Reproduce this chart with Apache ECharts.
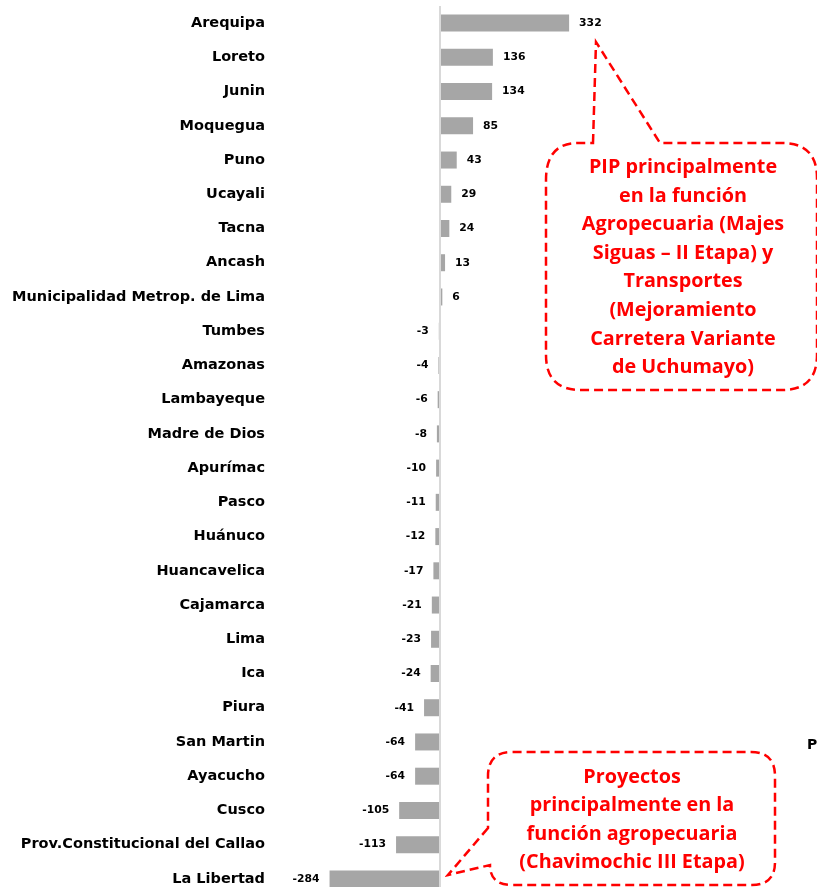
<!DOCTYPE html>
<html>
<head>
<meta charset="utf-8">
<script src="https://cdn.jsdelivr.net/npm/echarts@6/dist/echarts.min.js"></script>
<style>
html,body{margin:0;padding:0;background:#fff;}
#chart{width:817px;height:887px;}
</style>
</head>
<body>
<div id="chart"></div>
<script>
var categories = ["Arequipa","Loreto","Junin","Moquegua","Puno","Ucayali","Tacna","Ancash","Municipalidad Metrop. de Lima","Tumbes","Amazonas","Lambayeque","Madre de Dios","Apurímac","Pasco","Huánuco","Huancavelica","Cajamarca","Lima","Ica","Piura","San Martin","Ayacucho","Cusco","Prov.Constitucional del Callao","La Libertad"];
var values = [332,136,134,85,43,29,24,13,6,-3,-4,-6,-8,-10,-11,-12,-17,-21,-23,-24,-41,-64,-64,-105,-113,-284];
var callout1 = "PIP principalmente\nen la función\nAgropecuaria (Majes\nSiguas – II Etapa) y\nTransportes\n(Mejoramiento\nCarretera Variante\nde Uchumayo)";
var callout2 = "Proyectos\nprincipalmente en la\nfunción agropecuaria\n(Chavimochic III Etapa)";

var bubble1 = echarts.graphic.extendPath('M 593 143 L 596 42 L 660 143 L 782 143 Q 817 143 817 178 L 817 355 Q 817 390 782 390 L 581 390 Q 546 390 546 355 L 546 180 Q 546 143 578 143 Z', {});
var bubble2 = echarts.graphic.extendPath('M 488 828 L 448 875 L 490 865 Q 490 885 512 885 L 752 885 Q 775 885 775 862 L 775 776 Q 775 752 751 752 L 512 752 Q 488 752 488 776 Z', {});
echarts.graphic.registerShape('bubble1', bubble1);
echarts.graphic.registerShape('bubble2', bubble2);

var chart = echarts.init(document.getElementById('chart'), null, {renderer:'canvas'});
var barData = values.map(function(v){
  return {value: v, label: {position: v >= 0 ? 'right' : 'left'}};
});
var red = '#ff0000';
var calloutFont = 'bold 19.8px "Open Sans"';
chart.setOption({
  animation: false,
  backgroundColor: '#ffffff',
  grid: {left: 300, top: 6, width: 490, height: 890, containLabel: false, outerBoundsMode: 'none'},
  xAxis: {type: 'value', min: -360, max: 900, show: false, splitLine: {show: false}},
  yAxis: {
    type: 'category', data: categories, inverse: true,
    axisLine: {show: false, onZero: false}, axisTick: {show: false},
    axisLabel: {margin: 35, color: '#000', fontFamily: 'DejaVu Sans', fontWeight: 'bold', fontSize: 14.5}
  },
  series: [{
    type: 'bar', data: [], z: 1,
    markLine: {
      silent: true, symbol: ['none','none'], label: {show: false},
      lineStyle: {color: '#d9d9d9', width: 2, type: 'solid'},
      data: [{xAxis: 0}]
    }
  }, {
    type: 'bar', data: barData, barWidth: 17, z: 3, barGap: '-100%',
    itemStyle: {color: '#a6a6a6'},
    label: {show: true, distance: 10, color: '#000', fontFamily: 'DejaVu Sans', fontWeight: 'bold', fontSize: 10.8}
  }],
  graphic: [
    {type: 'bubble1', z: 100, style: {fill: 'none', stroke: red, lineWidth: 2.5, lineDash: [9,5]}},
    {type: 'text', z: 101, x: 683, y: 153, style: {text: callout1, font: calloutFont, fill: red, align: 'center', verticalAlign: 'top', lineHeight: 28.6}},
    {type: 'bubble2', z: 100, style: {fill: 'none', stroke: red, lineWidth: 2.5, lineDash: [9,5]}},
    {type: 'text', z: 101, x: 632, y: 763, style: {text: callout2, font: calloutFont, fill: red, align: 'center', verticalAlign: 'top', lineHeight: 28.5}},
    {type: 'text', z: 101, x: 807, y: 745, style: {text: 'P', font: 'bold 14px "DejaVu Sans"', fill: '#000', align: 'left', verticalAlign: 'middle'}}
  ]
});
</script>
</body>
</html>
